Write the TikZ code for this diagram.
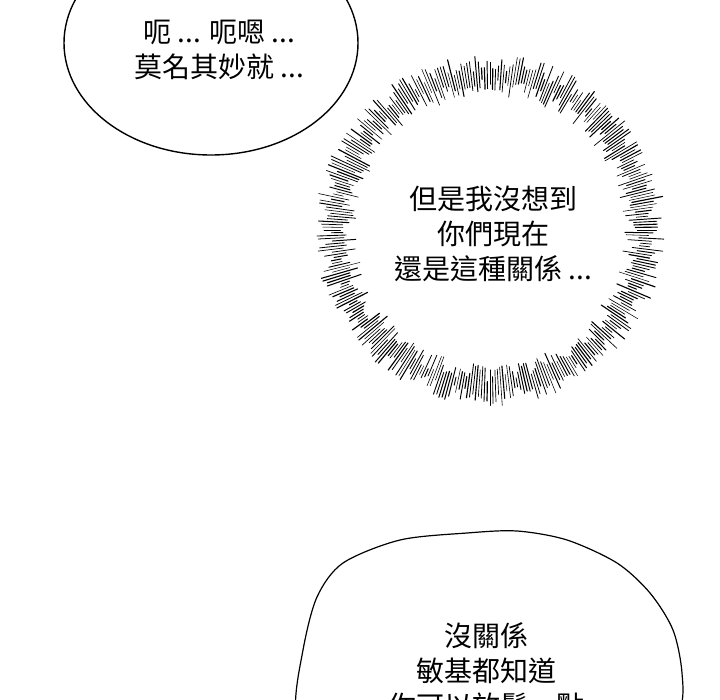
\documentclass[tikz,border=0pt]{standalone}
\usepackage{fontspec}
\usetikzlibrary{calc}
\newfontfamily\cjk{Noto Sans CJK TC}

\tikzset{
    dialogo/.style={font=\cjk\fontsize{28}{35}\selectfont, align=center, inner sep=0pt},
    globo/.style={line width=1.4pt},
    rayo/.style={line cap=round}
}

\begin{document}
\begin{tikzpicture}[x=1pt,y=-1pt]
    % Lienzo
    \clip (0,0) rectangle (720,700);
    \fill[white] (0,0) rectangle (720,700);

    % Globo superior izquierdo
    \draw[globo] (211,43) ellipse (147 and 112);
    \node[dialogo] (dudas) at (219,50) {呃 ... 呃嗯 ...\\莫名其妙就 ...};

    % Globo de rayos (pensamiento)
    \coordinate (centro) at (490,230);
    \pgfmathsetseed{5}
    \foreach \a in {0,1,...,359}{
        \pgfmathsetmacro{\ri}{143+9*rand}
        \pgfmathsetmacro{\ro}{167+9*rand}
        \pgfmathsetmacro{\g}{0.5+0.7*rnd}
        \draw[rayo, line width=\g pt] ([shift={(\a:\ri)}]centro) -- ([shift={(\a:\ro)}]centro);
    }
    \node[dialogo] (idea) at (493,234) {但是我沒想到\\你們現在\\還是這種關係 ...};

    % Globo inferior
    \draw[line width=1.2pt] plot[smooth cycle, tension=0.5] coordinates {
        (296,712) (303,650) (317,597) (343,563) (400,540) (467,533)
        (517,531) (567,540) (617,563) (650,593) (673,630) (682,673) (679,712)
        (640,770) (480,790) (320,770)};
    \node[dialogo] (calma) at (486,671) {沒關係\\敏基都知道\\你可以放鬆一點};
\end{tikzpicture}
\end{document}
